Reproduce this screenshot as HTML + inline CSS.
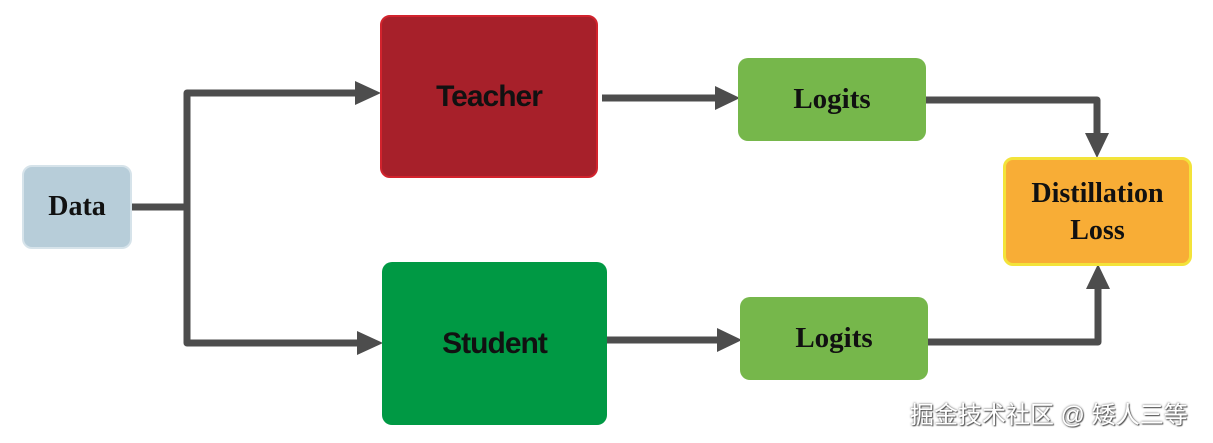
<!DOCTYPE html>
<html><head><meta charset="utf-8"><style>
html,body{margin:0;padding:0;background:#fff;width:1213px;height:443px;overflow:hidden;position:relative}
.b{position:absolute;border-radius:10px;display:flex;align-items:center;justify-content:center;text-align:center;font-weight:bold;color:#111}
.serif{font-family:"Liberation Serif",serif}
.sans{font-family:"Liberation Sans",sans-serif}
</style></head><body>
<svg width="1213" height="443" style="position:absolute;left:0;top:0">
<g stroke="#4d4d4d" stroke-width="7" fill="none" stroke-linejoin="round">
<polyline points="132,207 187,207"/>
<polyline points="358,93 187,93 187,343 360,343"/>
<polyline points="602,98 718,98"/>
<polyline points="606,340 720,340"/>
<polyline points="926,100 1097,100 1097,136"/>
<polyline points="928,342 1098,342 1098,287"/>
</g>
<g fill="#4d4d4d">
<polygon points="355,81 381,93 355,105"/>
<polygon points="357,331 383,343 357,355"/>
<polygon points="715,86 740,98 715,110"/>
<polygon points="717,328 742,340 717,352"/>
<polygon points="1085,133 1109,133 1097,158"/>
<polygon points="1086,289 1110,289 1098,264"/>
</g>
</svg>
<div class="b serif" style="left:22px;top:165px;width:106px;height:80px;background:#b7cdd9;border:2px solid #d6e3ea;font-size:28px">Data</div>
<div class="b sans" style="left:380px;top:15px;width:214px;height:159px;background:#a7202a;border:2px solid #d2232d;font-size:30px;letter-spacing:-1px">Teacher</div>
<div class="b sans" style="left:382px;top:262px;width:225px;height:163px;background:#009944;font-size:30px;letter-spacing:-1px">Student</div>
<div class="b serif" style="left:738px;top:58px;width:188px;height:83px;background:#76b74b;font-size:29px">Logits</div>
<div class="b serif" style="left:740px;top:297px;width:188px;height:83px;background:#76b74b;font-size:29px">Logits</div>
<div class="b serif" style="left:1003px;top:157px;width:183px;height:103px;background:#f8ad36;border:3px solid #f3e33a;font-size:28px;line-height:37px">Distillation<br>Loss</div>
<div style="position:absolute;left:910px;top:395px;font-family:'Liberation Sans','Noto Sans CJK SC',sans-serif;font-size:24px;color:#fff;text-shadow:0 0 2px #555,1px 1px 1px #555">掘金技术社区 @ 矮人三等</div>
</body></html>
